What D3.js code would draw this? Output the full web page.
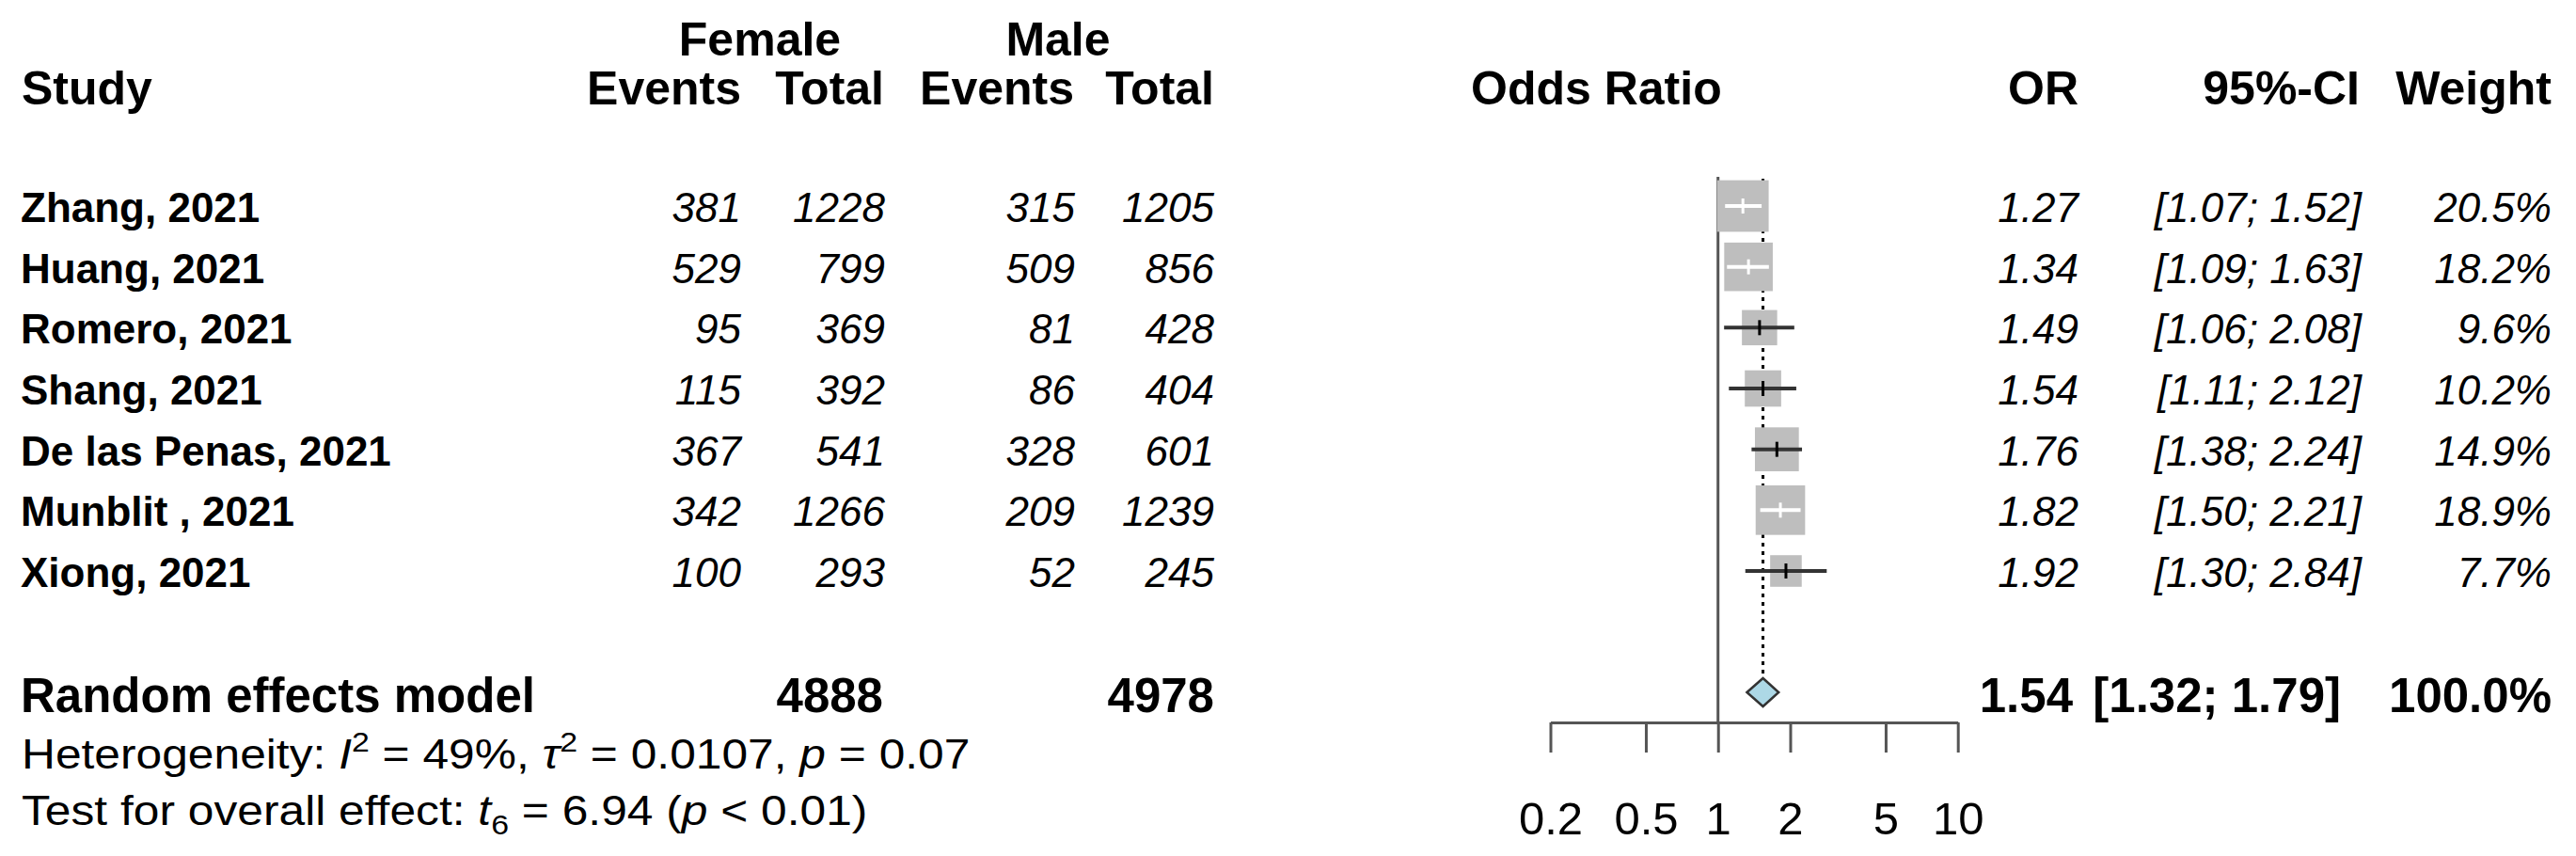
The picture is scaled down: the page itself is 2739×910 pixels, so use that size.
<!DOCTYPE html>
<html>
  <head>
    <meta charset="utf-8">
    <title>Forest plot</title>
    <script src="https://d3js.org/d3.v7.min.js"></script>
    <style>
      body { margin: 0; background: #fff; }
      text { font-family: "Liberation Sans", Arial, sans-serif; fill: #000; }
    </style>
  </head>
  <body>
    <script>
      // study rows
      const studies = ["Zhang, 2021", "Huang, 2021", "Romero, 2021", "Shang, 2021",
                       "De las Penas, 2021", "Munblit , 2021", "Xiong, 2021"];
      const femaleEvents = [381, 529, 95, 115, 367, 342, 100];
      const femaleTotal = [1228, 799, 369, 392, 541, 1266, 293];
      const maleEvents = [315, 509, 81, 86, 328, 209, 52];
      const maleTotal = [1205, 856, 428, 404, 601, 1239, 245];
      const oddsRatio = [1.27, 1.34, 1.49, 1.54, 1.76, 1.82, 1.92];
      const ciLower = [1.07, 1.09, 1.06, 1.11, 1.38, 1.50, 1.30];
      const ciUpper = [1.52, 1.63, 2.08, 2.12, 2.24, 2.21, 2.84];
      const weights = [20.5, 18.2, 9.6, 10.2, 14.9, 18.9, 7.7];

      // pooled (random effects) row
      const pooledOR = 1.54;
      const pooledLower = 1.32;
      const pooledUpper = 1.79;
      const pooledFemaleTotal = 4888;
      const pooledMaleTotal = 4978;

      // axis ticks
      const axisTicks = [0.2, 0.5, 1, 2, 5, 10];

      const W = 2739, H = 910;
      const svg = d3.select("body").append("svg")
          .attr("width", W)
          .attr("height", H);

      const x = d3.scaleLog()
          .domain([0.2, 10])
          .range([1648.5, 2081.7]);
      const y = d3.scaleLinear()
          .domain([0, studies.length - 1])
          .range([219, 607]);
      const ySummary = 736;
      const axisY = 768;

      const fmt2 = d3.format(".2f");
      const fmt1 = d3.format(".1f");

      // header
      const header = svg.append("g")
          .style("font-weight", "bold")
          .style("font-size", "50px");
      header.append("text").attr("x", 808).attr("y", 59).attr("text-anchor", "middle").text("Female");
      header.append("text").attr("x", 1125).attr("y", 59).attr("text-anchor", "middle").text("Male");
      header.append("text").attr("x", 23).attr("y", 111).text("Study");
      [["Events", 788], ["Total", 940], ["Events", 1142], ["Total", 1291]].forEach(([t, px]) => {
        header.append("text").attr("x", px).attr("y", 111).attr("text-anchor", "end").text(t);
      });
      header.append("text").attr("x", 1564).attr("y", 111).text("Odds Ratio");
      header.append("text").attr("x", 2210).attr("y", 111).attr("text-anchor", "end").text("OR");
      header.append("text").attr("x", 2509).attr("y", 111).attr("text-anchor", "end").text("95%-CI");
      header.append("text").attr("x", 2713).attr("y", 111).attr("text-anchor", "end").text("Weight");

      // study rows text
      const rows = svg.append("g").style("font-size", "44px");
      studies.forEach((s, i) => {
        const by = y(i) + 17;
        rows.append("text").attr("x", 22).attr("y", by).style("font-weight", "bold").text(s);
        const cols = [
          [femaleEvents[i], 788], [femaleTotal[i], 941], [maleEvents[i], 1143], [maleTotal[i], 1291],
          [fmt2(oddsRatio[i]), 2210],
          ["[" + fmt2(ciLower[i]) + "; " + fmt2(ciUpper[i]) + "]", 2511],
          [fmt1(weights[i]) + "%", 2713]
        ];
        cols.forEach(([t, px]) => {
          rows.append("text").attr("x", px).attr("y", by)
              .attr("text-anchor", "end").style("font-style", "italic").text(t);
        });
      });

      // summary row text
      const summ = svg.append("g").style("font-size", "51px").style("font-weight", "bold");
      const sy = 757;
      summ.append("text").attr("x", 22).attr("y", sy).text("Random effects model");
      summ.append("text").attr("x", 939).attr("y", sy).attr("text-anchor", "end").text(pooledFemaleTotal);
      summ.append("text").attr("x", 1291).attr("y", sy).attr("text-anchor", "end").text(pooledMaleTotal);
      summ.append("text").attr("x", 2204).attr("y", sy).attr("text-anchor", "end").text(fmt2(pooledOR));
      summ.append("text").attr("x", 2489).attr("y", sy).attr("text-anchor", "end")
          .text("[" + fmt2(pooledLower) + "; " + fmt2(pooledUpper) + "]");
      summ.append("text").attr("x", 2713).attr("y", sy).attr("text-anchor", "end").text("100.0%");

      // heterogeneity and overall effect (reference text is set a little wide)
      const het = svg.append("text")
          .attr("transform", "translate(23,817) scale(1.13,1)")
          .style("font-size", "44px");
      het.append("tspan").text("Heterogeneity: ");
      het.append("tspan").style("font-style", "italic").text("I");
      het.append("tspan").attr("dy", -18).style("font-size", "30px").text("2");
      het.append("tspan").attr("dy", 18).text(" = 49%, ");
      het.append("tspan").style("font-style", "italic").text("τ");
      het.append("tspan").attr("dy", -18).style("font-size", "30px").text("2");
      het.append("tspan").attr("dy", 18).text(" = 0.0107, ");
      het.append("tspan").style("font-style", "italic").text("p");
      het.append("tspan").text(" = 0.07");

      const test = svg.append("text")
          .attr("transform", "translate(23,877) scale(1.13,1)")
          .style("font-size", "44px");
      test.append("tspan").text("Test for overall effect: ");
      test.append("tspan").style("font-style", "italic").text("t");
      test.append("tspan").attr("dy", 10).style("font-size", "30px").text("6");
      test.append("tspan").attr("dy", -10).text(" = 6.94 (");
      test.append("tspan").style("font-style", "italic").text("p");
      test.append("tspan").text(" < 0.01)");

      // reference line at OR = 1
      svg.append("line")
          .attr("x1", x(1)).attr("x2", x(1))
          .attr("y1", 188).attr("y2", axisY)
          .style("stroke", "#555").style("stroke-width", 3);

      // dotted line at pooled estimate
      svg.append("line")
          .attr("x1", x(pooledOR)).attr("x2", x(pooledOR))
          .attr("y1", 190).attr("y2", ySummary - 15)
          .style("stroke", "#000").style("stroke-width", 3)
          .style("stroke-dasharray", "4,5");

      // study boxes and CIs
      const plot = svg.append("g");
      studies.forEach((s, i) => {
        const side = 12.1 * Math.sqrt(weights[i]);
        const cx = x(oddsRatio[i]);
        const cy = y(i);
        plot.append("rect")
            .attr("x", cx - side / 2).attr("y", cy - side / 2)
            .attr("width", side).attr("height", side)
            .style("fill", "#bebebe");
        const inside = x(ciLower[i]) >= cx - side / 2 && x(ciUpper[i]) <= cx + side / 2;
        plot.append("line")
            .attr("x1", x(ciLower[i])).attr("x2", x(ciUpper[i]))
            .attr("y1", cy).attr("y2", cy)
            .style("stroke", inside ? "#fff" : "#333").style("stroke-width", 4);
        plot.append("line")
            .attr("x1", cx).attr("x2", cx)
            .attr("y1", cy - 8).attr("y2", cy + 8)
            .style("stroke", inside ? "#fff" : "#000").style("stroke-width", 3);
      });

      // pooled diamond
      const diamond = [
        [x(pooledLower), ySummary], [x(pooledOR), ySummary - 15],
        [x(pooledUpper), ySummary], [x(pooledOR), ySummary + 15]
      ];
      svg.append("path")
          .attr("d", d3.line()(diamond) + "Z")
          .style("fill", "#add8e6")
          .style("stroke", "#333")
          .style("stroke-width", 2.5);

      // x axis
      const axis = svg.append("g")
          .attr("transform", `translate(0,${axisY})`)
          .call(d3.axisBottom(x)
              .tickValues(axisTicks)
              .tickFormat(d => d)
              .tickSize(32)
              .tickSizeOuter(0)
              .tickPadding(52));
      axis.select(".domain").style("stroke", "#555").style("stroke-width", 3);
      axis.selectAll(".tick line").style("stroke", "#555").style("stroke-width", 3);
      axis.selectAll(".tick text")
          .style("font-size", "49px")
          .style("font-family", "\"Liberation Sans\", Arial, sans-serif")
          .attr("fill", "#000");
    </script>
  </body>
</html>
